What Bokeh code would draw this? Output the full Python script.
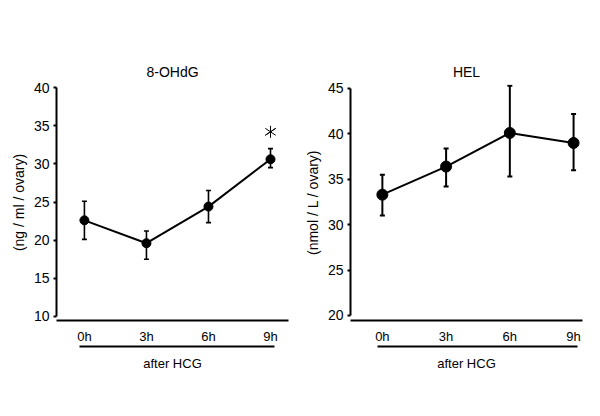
from bokeh.plotting import figure
from bokeh.layouts import row
from bokeh.models import Range1d, FixedTicker, LinearAxis, ColumnDataSource, Whisker, TeeHead
from bokeh.embed import file_html
from bokeh.resources import INLINE

hours = ["0h", "3h", "6h", "9h"]
xpos = [0, 1, 2, 3]

ohdg_mean = [22.6, 19.6, 24.4, 30.6]
ohdg_lower = [20.1, 17.5, 22.3, 29.5]
ohdg_upper = [25.1, 21.2, 26.5, 32.0]
ohdg_ticks = [10, 15, 20, 25, 30, 35, 40]

hel_mean = [33.3, 36.4, 40.1, 39.0]
hel_lower = [31.0, 34.2, 35.3, 36.0]
hel_upper = [35.5, 38.4, 45.3, 42.2]
hel_ticks = [20, 25, 30, 35, 40, 45]

sig_x = [3]
sig_y = [34.2]

FONT = "Liberation Sans"


def panel(title, ylabel, mean, lower, upper, ticks, yr, xr, width, bl, br, msize, lw, sig=None):
    p = figure(width=width, height=389, output_backend="svg", toolbar_location=None,
               x_range=Range1d(*xr), y_range=Range1d(*yr),
               min_border_left=bl, min_border_right=br, min_border_top=84, min_border_bottom=69,
               x_axis_location=None, y_axis_location=None)
    p.outline_line_color = None
    p.grid.visible = False
    p.background_fill_color = "white"
    p.border_fill_color = "white"
    p.title.text = title
    p.title.align = "center"
    p.title.text_font = FONT
    p.title.text_font_size = "14px"
    p.title.text_font_style = "normal"
    p.title.text_color = "black"
    p.title.standoff = 9

    ya = LinearAxis(ticker=FixedTicker(ticks=ticks), bounds=(ticks[0], ticks[-1]))
    ya.axis_label = ylabel
    ya.axis_label_text_font = FONT
    ya.axis_label_text_font_size = "14px"
    ya.axis_label_text_font_style = "normal"
    ya.axis_label_text_color = "black"
    ya.axis_label_standoff = 4
    ya.major_label_text_font = FONT
    ya.major_label_text_font_size = "14px"
    ya.major_label_text_color = "black"
    ya.major_label_standoff = 4
    ya.major_tick_in = 0
    ya.major_tick_out = 3
    ya.minor_tick_line_color = None
    ya.axis_line_width = 2
    ya.major_tick_line_width = 2
    p.add_layout(ya, "left")

    xa = LinearAxis(ticker=FixedTicker(ticks=xpos))
    xa.major_label_overrides = {i: h for i, h in zip(xpos, hours)}
    xa.major_label_text_font = FONT
    xa.major_label_text_font_size = "13px"
    xa.major_label_text_color = "black"
    xa.major_label_standoff = 2
    xa.major_tick_line_color = None
    xa.minor_tick_line_color = None
    xa.axis_line_width = 2
    p.add_layout(xa, "below")

    xa2 = LinearAxis(ticker=FixedTicker(ticks=[]), bounds=(-0.08, 3.06))
    xa2.major_tick_line_color = None
    xa2.minor_tick_line_color = None
    xa2.major_label_text_font_size = "0px"
    xa2.axis_label = "after HCG"
    xa2.axis_label_text_font = FONT
    xa2.axis_label_text_font_size = "13px"
    xa2.axis_label_text_font_style = "normal"
    xa2.axis_label_text_color = "black"
    xa2.axis_label_standoff = 9
    xa2.axis_line_width = 2
    p.add_layout(xa2, "below")

    src = ColumnDataSource(dict(x=xpos, y=mean, lo=lower, up=upper))
    p.add_layout(Whisker(source=src, base="x", lower="lo", upper="up",
                         line_width=lw, line_color="black",
                         upper_head=TeeHead(size=5, line_width=lw),
                         lower_head=TeeHead(size=5, line_width=lw)))
    p.line("x", "y", source=src, line_width=2, line_color="black")
    p.scatter("x", "y", source=src, size=msize, color="black")
    if sig:
        p.scatter(x=sig[0], y=sig[1], marker="y", size=12, line_color="black", line_width=1)
        p.scatter(x=sig[0], y=sig[1], marker="y", size=12, angle=3.14159265, line_color="black", line_width=1)
    return p


p1 = panel("8-OHdG", "(ng / ml / ovary)", ohdg_mean, ohdg_lower, ohdg_upper, ohdg_ticks,
           (9.47, 40.4), (-0.45, 3.29), 292, 56, 4, 9, 1.6, sig=(sig_x, sig_y))
p2 = panel("HEL", "(nmol / L / ovary)", hel_mean, hel_lower, hel_upper, hel_ticks,
           (19.44, 45.44), (-0.5, 3.14), 294, 58, 4, 11, 2)

layout = row(p1, p2)
open("out.html", "w").write(file_html(layout, INLINE))
